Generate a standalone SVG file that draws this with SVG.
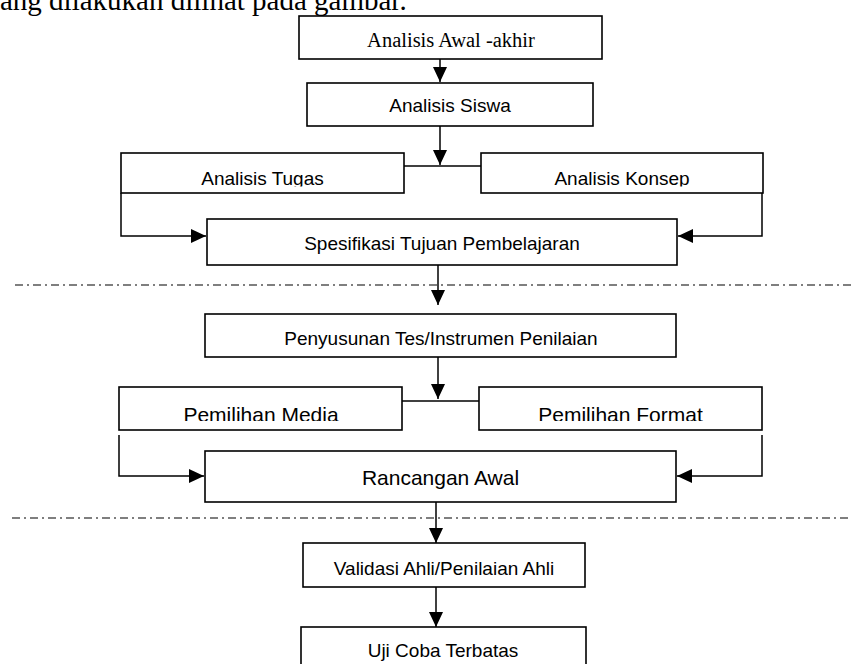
<svg xmlns="http://www.w3.org/2000/svg" width="852" height="664" viewBox="0 0 852 664">
<style>
.box{fill:#fff;stroke:#000;stroke-width:1.6}
.con{fill:none;stroke:#000;stroke-width:1.5}
.sep{fill:none;stroke:#000;stroke-width:1.2;stroke-dasharray:8 4 2 4}
.t{font-family:"Liberation Sans",Arial,sans-serif;font-size:19px;fill:#000;text-anchor:middle}
.tl{font-family:"Liberation Sans",Arial,sans-serif;font-size:21px;fill:#000;text-anchor:middle}
.ts{font-family:"Liberation Serif","Times New Roman",serif;font-size:20.5px;fill:#000;text-anchor:middle}
.body{font-family:"Liberation Serif","Times New Roman",serif;font-size:29px;fill:#000}
</style>
<defs>
<marker id="ah" markerUnits="userSpaceOnUse" markerWidth="15" markerHeight="14" refX="15" refY="7" orient="auto">
<path d="M0,0 L15,7 L0,14 z" fill="#000"/>
</marker>
<clipPath id="clipTop"><rect x="100" y="150" width="700" height="36.5"/></clipPath>
<clipPath id="clipMid"><rect x="100" y="385" width="700" height="36"/></clipPath>
</defs>
<text class="body" x="0" y="10">ang dilakukan dilihat pada gambar.</text>
<g id="separators">
<line class="sep" x1="15" y1="285" x2="852" y2="285"/>
<line class="sep" x1="12" y1="518" x2="852" y2="518"/>
</g>
<g id="n1"><rect class="box" x="299" y="16" width="303" height="43"/><text class="ts" x="451" y="47">Analisis Awal -akhir</text></g>
<g id="n2"><rect class="box" x="307" y="83" width="286" height="43"/><text class="t" x="450" y="112">Analisis Siswa</text></g>
<g id="n3"><rect class="box" x="121" y="153" width="283" height="40"/><text class="t" x="262.5" y="184.5" clip-path="url(#clipTop)">Analisis Tugas</text></g>
<g id="n4"><rect class="box" x="481" y="153" width="282" height="40"/><text class="t" x="622" y="184.5" clip-path="url(#clipTop)">Analisis Konsep</text></g>
<g id="n5"><rect class="box" x="207" y="219" width="470" height="46"/><text class="t" x="442" y="250">Spesifikasi Tujuan Pembelajaran</text></g>
<g id="n6"><rect class="box" x="205" y="314" width="471" height="43"/><text class="t" x="441" y="345">Penyusunan Tes/Instrumen Penilaian</text></g>
<g id="n7"><rect class="box" x="119" y="387" width="283" height="43"/><text class="tl" x="261" y="422" clip-path="url(#clipMid)">Pemilihan Media</text></g>
<g id="n8"><rect class="box" x="479" y="387" width="283" height="43"/><text class="tl" x="620.5" y="422" clip-path="url(#clipMid)">Pemilihan Format</text></g>
<g id="n9"><rect class="box" x="205" y="451" width="471" height="51"/><text class="tl" x="440.5" y="485">Rancangan Awal</text></g>
<g id="n10"><rect class="box" x="303" y="543" width="282" height="44"/><text class="t" x="444" y="575">Validasi Ahli/Penilaian Ahli</text></g>
<g id="n11"><rect class="box" x="301" y="627" width="285" height="60"/><text class="t" x="443" y="657">Uji Coba Terbatas</text></g>
<g id="connectors">
<line class="con" x1="440" y1="59" x2="440" y2="82" marker-end="url(#ah)"/>
<line class="con" x1="440" y1="126" x2="440" y2="165" marker-end="url(#ah)"/>
<line class="con" x1="404" y1="166" x2="481" y2="166"/>
<polyline class="con" points="121,193 121,236 206,236" marker-end="url(#ah)"/>
<polyline class="con" points="762,193 762,236 678,236" marker-end="url(#ah)"/>
<line class="con" x1="438" y1="265" x2="438" y2="305" marker-end="url(#ah)"/>
<line class="con" x1="438" y1="357" x2="438" y2="399" marker-end="url(#ah)"/>
<line class="con" x1="402" y1="401" x2="479" y2="401"/>
<polyline class="con" points="119,435 119,476 204,476" marker-end="url(#ah)"/>
<polyline class="con" points="762,435 762,476 677,476" marker-end="url(#ah)"/>
<line class="con" x1="436" y1="502" x2="436" y2="543" marker-end="url(#ah)"/>
<line class="con" x1="436" y1="587" x2="436" y2="627" marker-end="url(#ah)"/>
</g>
</svg>
